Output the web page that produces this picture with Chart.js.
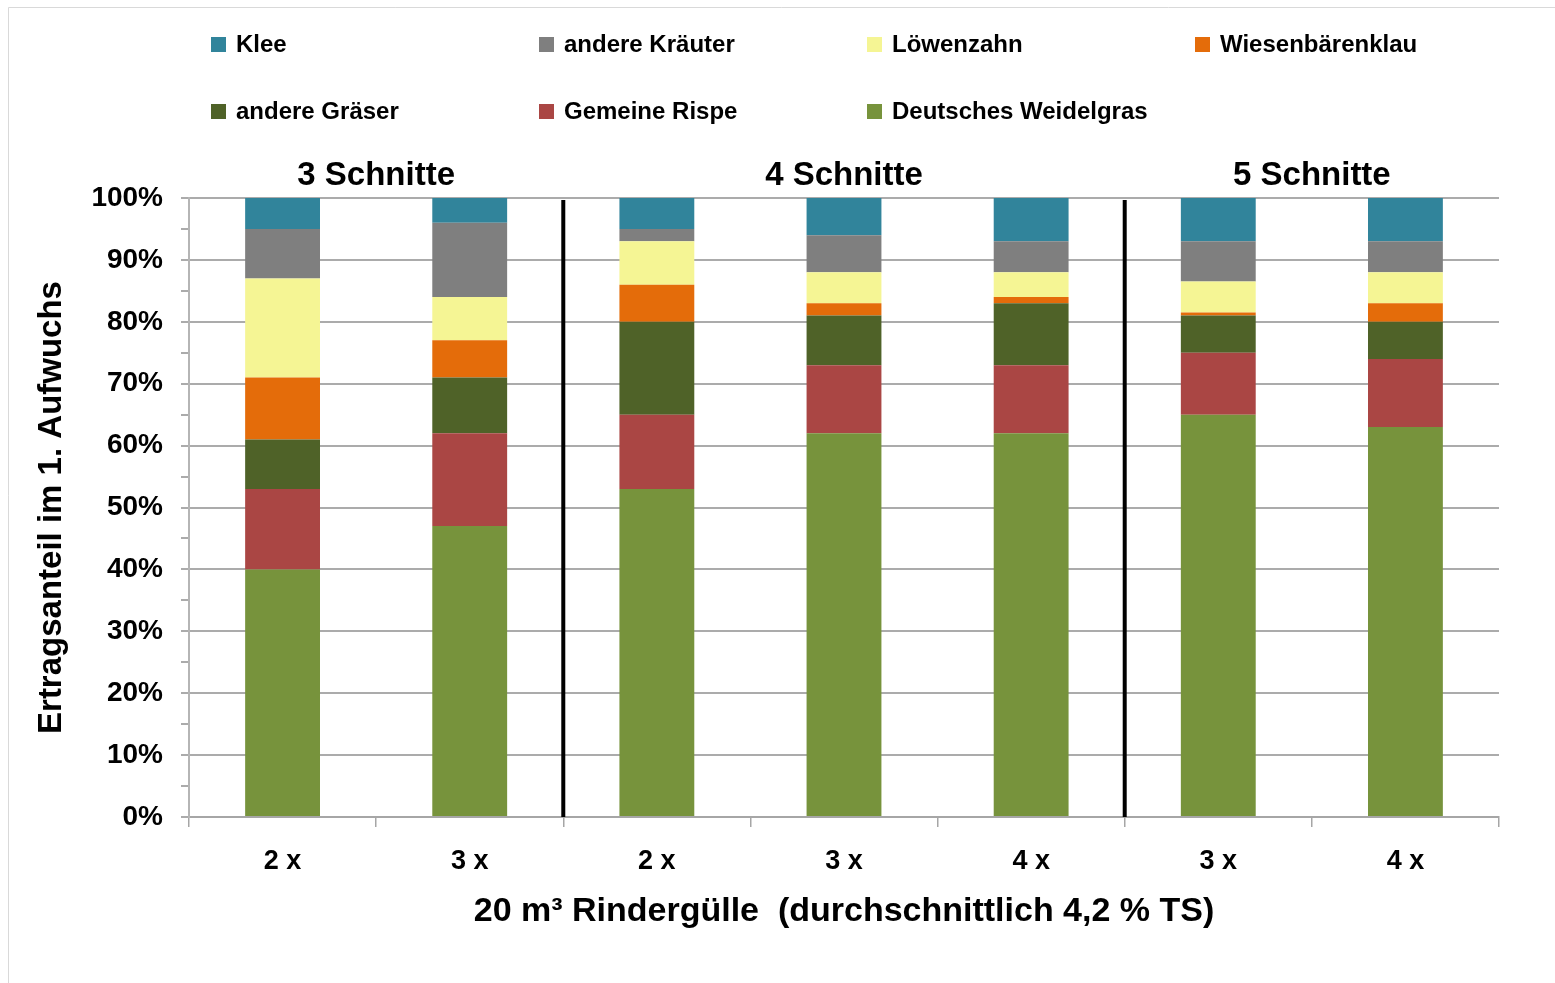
<!DOCTYPE html>
<html lang="de">
<head>
    <meta charset="UTF-8">
    <script src="https://cdn.jsdelivr.net/npm/chart.js"></script>
    <title>Ertragsanteil</title>
    <style>
        body { margin: 0; background: #fff; }
        canvas { display: block; }
    </style>
</head>
<body>
    <canvas id="ertragChart" width="1555" height="983"></canvas>

    <script>
        // Kategorien (Güllegaben) und Schnittgruppen
        const categories = ['2 x', '3 x', '2 x', '3 x', '4 x', '3 x', '4 x'];
        const groupLabels = ['3 Schnitte', '4 Schnitte', '5 Schnitte'];
        const groupFirst = [0, 2, 5];
        const groupLast = [1, 4, 6];

        // Ertragsanteile in % (von unten nach oben gestapelt)
        const weidelgras = [40, 47, 53, 62, 62, 65, 63];
        const rispe = [13, 15, 12, 11, 11, 10, 11];
        const graeser = [8, 9, 15, 8, 10, 6, 6];
        const baerenklau = [10, 6, 6, 2, 1, 0.5, 3];
        const loewenzahn = [16, 7, 7, 5, 4, 5, 5];
        const kraeuter = [8, 12, 2, 6, 5, 6.5, 5];
        const klee = [5, 4, 5, 6, 7, 7, 7];

        const yTicks = [0, 10, 20, 30, 40, 50, 60, 70, 80, 90, 100];

        const FONT = '"Liberation Sans", Arial, sans-serif';

        const data = {
          labels: categories,
          datasets: [
            { label: 'Deutsches Weidelgras', data: weidelgras, backgroundColor: '#77933C' },
            { label: 'Gemeine Rispe', data: rispe, backgroundColor: '#AA4644' },
            { label: 'andere Gräser', data: graeser, backgroundColor: '#4F6228' },
            { label: 'Wiesenbärenklau', data: baerenklau, backgroundColor: '#E46C0A' },
            { label: 'Löwenzahn', data: loewenzahn, backgroundColor: '#F5F594' },
            { label: 'andere Kräuter', data: kraeuter, backgroundColor: '#7F7F7F' },
            { label: 'Klee', data: klee, backgroundColor: '#31849B' },
          ],
        };

        // weißer Hintergrund, dünne Linie oben und links
        const background = {
          id: 'background',
          beforeDraw(chart) {
            const c = chart.ctx;
            c.save();
            c.fillStyle = '#fff';
            c.fillRect(0, 0, chart.width, chart.height);
            c.strokeStyle = '#d9d9d9';
            c.lineWidth = 1;
            c.beginPath();
            c.moveTo(8.5, chart.height);
            c.lineTo(8.5, 7.5);
            c.lineTo(chart.width, 7.5);
            c.stroke();
            c.restore();
          }
        };

        // Legende in festen Spalten, Reihenfolge wie im Original (oben zuerst)
        const gridLegend = {
          id: 'gridLegend',
          afterDraw(chart) {
            const c = chart.ctx;
            const items = chart.data.datasets.slice().reverse();
            c.save();
            c.font = 'bold 24px ' + FONT;
            c.textBaseline = 'middle';
            c.textAlign = 'left';
            items.forEach((ds, i) => {
              const col = i % 4;
              const row = Math.floor(i / 4);
              const x = 211 + col * 328;
              const y = 44 + row * 67;
              c.fillStyle = ds.backgroundColor;
              c.fillRect(x, y - 7, 15, 15);
              c.fillStyle = '#000';
              c.fillText(ds.label, x + 25, y + 1);
            });
            c.restore();
          }
        };

        // Trennlinien und Gruppentitel
        const groups = {
          id: 'groups',
          afterDatasetsDraw(chart) {
            const c = chart.ctx;
            const xs = chart.scales.x;
            const area = chart.chartArea;
            c.save();
            c.strokeStyle = '#000';
            c.lineWidth = 4;
            for (let i = 0; i < groupLast.length - 1; i++) {
              const sx = (xs.getPixelForValue(groupLast[i]) + xs.getPixelForValue(groupLast[i] + 1)) / 2;
              c.beginPath();
              c.moveTo(sx, area.top + 2);
              c.lineTo(sx, area.bottom);
              c.stroke();
            }
            c.fillStyle = '#000';
            c.font = 'bold 33px ' + FONT;
            c.textAlign = 'center';
            c.textBaseline = 'middle';
            groupLabels.forEach((lbl, i) => {
              const gx = (xs.getPixelForValue(groupFirst[i]) + xs.getPixelForValue(groupLast[i])) / 2;
              c.fillText(lbl, gx, 176);
            });
            c.restore();
          }
        };

        const options = {
          responsive: false,
          animation: false,
          layout: { padding: { top: 198, right: 56, left: 0, bottom: 0 } },
          plugins: {
            legend: { display: false },
            tooltip: { enabled: false },
          },
          datasets: {
            bar: { categoryPercentage: 1, barPercentage: 0.4 },
          },
          scales: {
            x: {
              stacked: true,
              afterFit: (scale) => { scale.height = 166; },
              grid: {
                drawOnChartArea: false,
                drawTicks: true,
                tickLength: 10,
                tickColor: '#a6a6a6',
                lineWidth: 1.5,
              },
              border: { display: true, color: '#a6a6a6', width: 2 },
              ticks: {
                color: '#000',
                font: { family: FONT, size: 27, weight: 'bold' },
                padding: 18,
              },
              title: {
                display: true,
                text: '20 m³ Rindergülle  (durchschnittlich 4,2 % TS)',
                color: '#000',
                font: { family: FONT, size: 34, weight: 'bold' },
                padding: { top: 0, bottom: 51 },
              },
            },
            y: {
              stacked: true,
              min: 0,
              max: 100,
              afterFit: (scale) => { scale.width = 189; },
              afterBuildTicks: (scale) => {
                // Haupt- und Zwischenstriche alle 5 %
                const t = [];
                for (let v = 0; v <= 100; v += 5) t.push({ value: v });
                scale.ticks = t;
              },
              grid: {
                color: (ctx) => (ctx.tick && yTicks.includes(ctx.tick.value)) ? '#ababab' : 'rgba(0,0,0,0)',
                tickColor: '#ababab',
                tickLength: 8,
                lineWidth: 2,
              },
              border: { display: true, color: '#b5b5b5', width: 2 },
              ticks: {
                autoSkip: false,
                color: '#000',
                font: { family: FONT, size: 28, weight: 'bold' },
                padding: 18,
                callback: (v) => yTicks.includes(v) ? v + '%' : '',
              },
              title: {
                display: true,
                text: 'Ertragsanteil im 1. Aufwuchs',
                color: '#000',
                font: { family: FONT, size: 33, weight: 'bold' },
                padding: { top: 32, bottom: 0 },
              },
            },
          },
        };

        const ertragChart = new Chart(document.getElementById('ertragChart'), {
          type: 'bar',
          data: data,
          options: options,
          plugins: [background, gridLegend, groups],
        });
    </script>
</body>
</html>
